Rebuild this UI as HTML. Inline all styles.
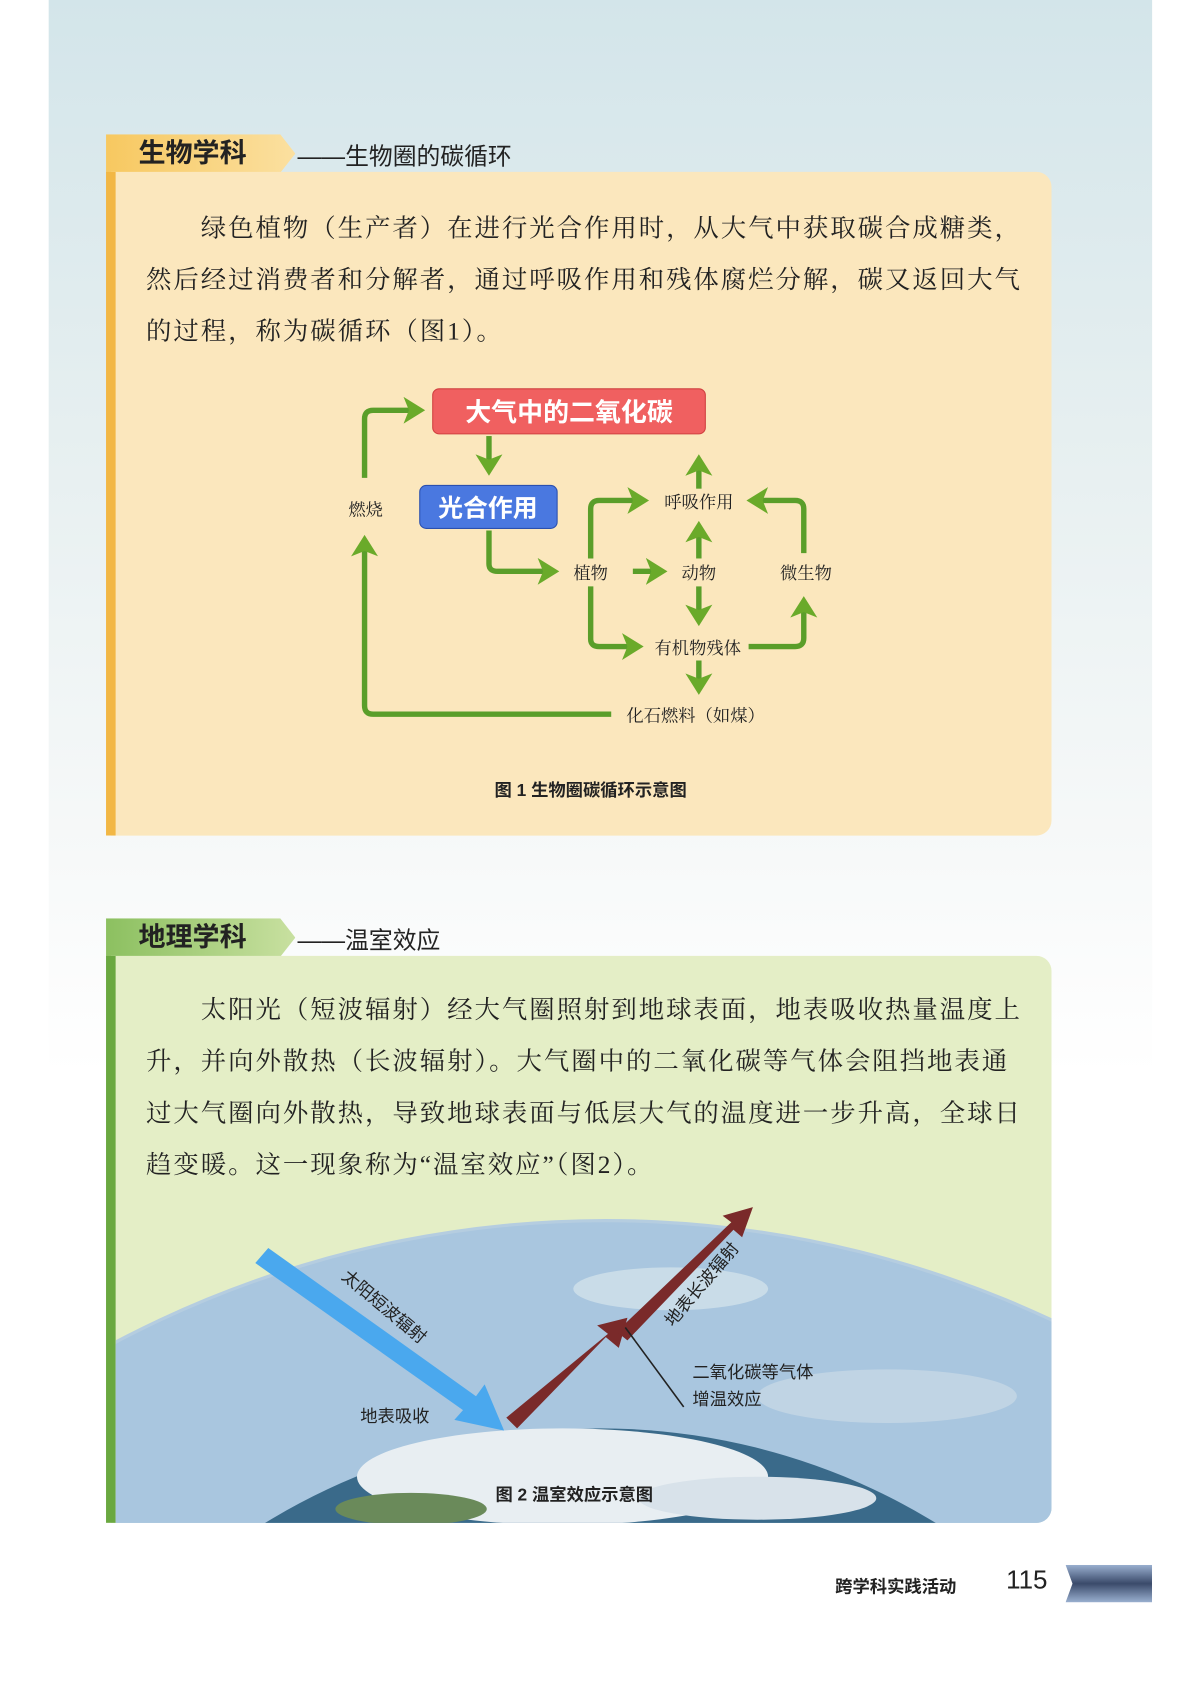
<!DOCTYPE html>
<html><head><meta charset="utf-8"><style>
*{margin:0;padding:0;box-sizing:border-box}
html,body{width:1190px;height:1684px;overflow:hidden;background:#fff}
#w{position:absolute;left:0;top:0;width:1100px;height:1568px;transform:scale(1.0818,1.074);transform-origin:0 0;font-family:"Liberation Sans","Noto Sans CJK SC",sans-serif;overflow:hidden}
.bg{position:absolute;left:45px;top:0;width:1020px;height:1568px;background:linear-gradient(#d3e5ea 0,#e6eff0 400px,#f7f9f9 800px,#fff 1000px)}
.tab{position:absolute;height:36px;font-weight:bold;font-size:25px;line-height:36px;padding-left:30px;color:#222}
.sub{position:absolute;font-size:22px;color:#222}
.box{position:absolute;border-radius:0 14px 14px 0}
p.t{position:absolute;font-family:"Liberation Serif","Noto Serif CJK SC",serif;font-size:23.5px;line-height:48px;color:#222;letter-spacing:1.8px;white-space:nowrap}
</style></head><body><div id="w">
<div class="bg"></div>
<div class="tab" style="left:98px;top:125px;width:175px;background:linear-gradient(90deg,#f7c860,#fbe0a0);clip-path:polygon(0 0,92% 0,100% 50%,92% 100%,0 100%)">生物学科</div>
<div class="sub" style="left:275px;top:128px">——生物圈的碳循环</div>
<div class="box" style="left:98px;top:160px;width:874px;height:618px;background:#fbe7bd;border-left:9px solid #f2b745"></div>
<p class="t" style="left:135px;top:189px">　　绿色植物（生产者）在进行光合作用时，从大气中获取碳合成糖类，<br>然后经过消费者和分解者，通过呼吸作用和残体腐烂分解，碳又返回大气<br>的过程，称为碳循环（图1）。</p>
<svg style="position:absolute;left:0;top:0" width="1100" height="800">
<defs><marker id="g" markerWidth="5" markerHeight="5" refX="3" refY="2.5" orient="auto" markerUnits="strokeWidth"><path d="M0,0 L4,2.5 L0,5 L1,2.5z" fill="#6aaa2a"/></marker></defs>
<g fill="none" stroke="#5a9e2a" stroke-width="5" marker-end="url(#g)" stroke-linejoin="round">
<path d="M337 445 V390 Q337 382 345 382 H388"/>
<path d="M565 665 H345 Q337 665 337 657 V503"/>
<path d="M452 406 V438"/>
<path d="M452 494 V525 Q452 532 460 532 H512"/>
<path d="M585 532 H612"/>
<path d="M546 520 V474 Q546 466 554 466 H595"/>
<path d="M546 546 V595 Q546 602 554 602 H590"/>
<path d="M646 520 V490"/>
<path d="M646 455 V428"/>
<path d="M646 546 V578"/>
<path d="M646 615 V642"/>
<path d="M692 602 H735 Q743 602 743 594 V560"/>
<path d="M743 515 V474 Q743 466 735 466 H695"/>
</g>
<rect x="400" y="362" width="252" height="42" rx="6" fill="#f06060" stroke="#d04040"/>
<text x="526" y="392" text-anchor="middle" font-size="24" font-weight="bold" fill="#fff">大气中的二氧化碳</text>
<rect x="388" y="452" width="127" height="40" rx="6" fill="#4a78e0" stroke="#2a50b0"/>
<text x="451" y="481" text-anchor="middle" font-size="23" font-weight="bold" fill="#fff">光合作用</text>
<g font-size="16" fill="#222" font-family="Liberation Serif,Noto Serif CJK SC,serif" text-anchor="middle">
<text x="338" y="480">燃烧</text><text x="546" y="539">植物</text><text x="646" y="539">动物</text><text x="745" y="539">微生物</text>
<text x="646" y="473">呼吸作用</text><text x="645" y="609">有机物残体</text><text x="643" y="672">化石燃料（如煤）</text>
</g>
<text x="546" y="741" text-anchor="middle" font-size="16" font-weight="bold" fill="#222">图 1  生物圈碳循环示意图</text>
</svg>
<div class="tab" style="left:98px;top:855px;width:175px;background:linear-gradient(90deg,#8cc060,#c8e0a0);clip-path:polygon(0 0,92% 0,100% 50%,92% 100%,0 100%)">地理学科</div>
<div class="sub" style="left:275px;top:858px">——温室效应</div>
<div class="box" style="left:98px;top:890px;width:874px;height:528px;background:#e4eec6;border-left:9px solid #6aa840;overflow:hidden">
<svg style="position:absolute;left:-107px;top:-890px" width="1100" height="1568">
<circle cx="560" cy="2100" r="965" fill="#b5cde0"/>
<circle cx="560" cy="2100" r="962" fill="#a9c6df"/>
<ellipse cx="620" cy="1200" rx="90" ry="20" fill="#c9dce8"/>
<ellipse cx="820" cy="1300" rx="120" ry="25" fill="#c0d4e4"/>
<circle cx="555" cy="1920" r="590" fill="#3a6a8a"/>
<ellipse cx="520" cy="1375" rx="190" ry="45" fill="#e8eef2"/>
<ellipse cx="700" cy="1395" rx="110" ry="20" fill="#d8e2ea"/>
<ellipse cx="380" cy="1405" rx="70" ry="15" fill="#6a8a5a"/>
</svg>
</div>
<p class="t" style="left:135px;top:917px">　　太阳光（短波辐射）经大气圈照射到地球表面，地表吸收热量温度上<br>升，并向外散热（长波辐射）。大气圈中的二氧化碳等气体会阻挡地表通<br>过大气圈向外散热，导致地球表面与低层大气的温度进一步升高，全球日<br>趋变暖。这一现象称为“温室效应”（图2）。</p>
<svg style="position:absolute;left:0;top:0" width="1100" height="1568">
<polygon points="236,1176 248,1162 440,1300 448,1289 466,1332 420,1322 428,1313" fill="#4aa8ee"/>
<polygon points="468,1320 478,1330 560,1245 572,1255 580,1227 552,1234 562,1242 " fill="#7a2a2a"/>
<polygon points="570,1240 580,1248 678,1145 686,1152 696,1124 668,1132 676,1138" fill="#7a2a2a"/>
<line x1="578" y1="1236" x2="632" y2="1310" stroke="#222" stroke-width="1.5"/>
<g font-size="16" fill="#222">
<text transform="translate(315,1190) rotate(40)">太阳短波辐射</text>
<text transform="translate(622,1236) rotate(-50)">地表长波辐射</text>
<text x="333" y="1324">地表吸收</text>
<text x="640" y="1283">二氧化碳等气体</text><text x="640" y="1308">增温效应</text>
<text x="458" y="1397" font-weight="bold">图 2  温室效应示意图</text>
</g>
</svg>
<div style="position:absolute;left:772px;top:1464px;font-size:16px;font-weight:bold;color:#222">跨学科实践活动</div>
<div style="position:absolute;left:930px;top:1458px;font-size:24px;color:#222">115</div>
<div style="position:absolute;left:985px;top:1457px;width:80px;height:35px;background:linear-gradient(#9ab0d0,#3a4a6a 50%,#9ab0d0);clip-path:polygon(0 0,100% 0,100% 100%,0 100%,8% 50%)"></div>
</div></body></html>
